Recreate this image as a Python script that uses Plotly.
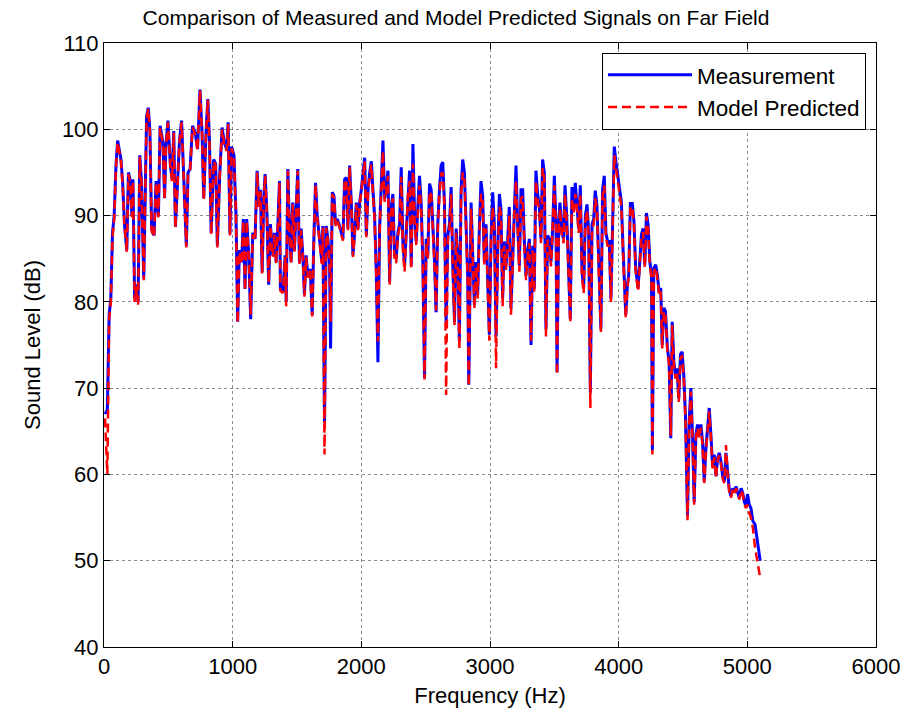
import plotly.graph_objects as go

freq = [8, 18, 26, 40, 53, 66, 79, 93, 106, 132, 145, 159, 177, 190, 204, 217, 225, 238, 251, 265,
        278, 291, 309, 331, 344, 357, 370, 389, 405, 423, 436, 458, 471, 481, 497, 516, 529, 542, 555, 574,
        587, 603, 622, 640, 653, 669, 688, 709, 727, 746, 762, 775, 794, 807, 820, 833, 852, 868, 881, 899,
        918, 934, 952, 965, 979, 992, 1010, 1026, 1039, 1052, 1070, 1083, 1096, 1109, 1125, 1140, 1156, 1174, 1190, 1203,
        1216, 1229, 1242, 1252, 1265, 1280, 1293, 1312, 1325, 1338, 1351, 1364, 1371, 1390, 1408, 1416, 1429, 1442, 1454, 1467,
        1480, 1493, 1506, 1519, 1532, 1545, 1558, 1571, 1584, 1603, 1618, 1631, 1644, 1657, 1675, 1693, 1701, 1714, 1727, 1740,
        1753, 1761, 1774, 1787, 1800, 1813, 1831, 1844, 1857, 1870, 1883, 1896, 1909, 1922, 1935, 1948, 1961, 1974, 1987, 2000,
        2013, 2026, 2039, 2052, 2065, 2078, 2090, 2103, 2116, 2129, 2142, 2155, 2168, 2181, 2194, 2207, 2220, 2233, 2245, 2258,
        2271, 2284, 2297, 2310, 2323, 2336, 2349, 2362, 2375, 2388, 2401, 2414, 2426, 2439, 2452, 2465, 2478, 2491, 2504, 2517,
        2530, 2543, 2556, 2569, 2581, 2594, 2607, 2620, 2633, 2646, 2659, 2672, 2685, 2698, 2711, 2724, 2737, 2749, 2762, 2775,
        2788, 2801, 2814, 2827, 2835, 2853, 2866, 2879, 2892, 2904, 2917, 2930, 2943, 2956, 2969, 2982, 2995, 3008, 3021, 3034,
        3047, 3060, 3073, 3085, 3098, 3111, 3124, 3137, 3150, 3163, 3176, 3189, 3202, 3215, 3228, 3241, 3254, 3267, 3280, 3293,
        3306, 3319, 3332, 3344, 3357, 3370, 3383, 3396, 3409, 3422, 3435, 3448, 3461, 3474, 3487, 3500, 3513, 3521, 3534, 3544,
        3559, 3572, 3583, 3596, 3611, 3624, 3637, 3650, 3663, 3676, 3689, 3702, 3715, 3728, 3741, 3754, 3767, 3780, 3793, 3806,
        3818, 3831, 3844, 3862, 3875, 3888, 3901, 3914, 3927, 3940, 3953, 3966, 3979, 3992, 4005, 4021, 4034, 4047, 4055, 4068,
        4078, 4091, 4106, 4119, 4132, 4151, 4164, 4177, 4190, 4203, 4216, 4229, 4242, 4255, 4262, 4273, 4288, 4301, 4314, 4327,
        4338, 4351, 4364, 4379, 4392, 4405, 4416, 4429, 4441, 4454, 4467, 4480, 4493, 4506, 4519, 4535, 4548, 4561, 4574, 4587,
        4600, 4613, 4626, 4639, 4652, 4665, 4678, 4691, 4704, 4717, 4730, 4743, 4756, 4769, 4782, 4795, 4808, 4821, 4834, 4847,
        4860, 4873, 4886, 4899, 4912, 4925, 4938, 4951, 4964, 4977, 4989, 5002, 5015, 5028, 5043, 5060, 5100]

measured = [67.0, 67.3, 67.5, 78.5, 80.4, 88.0, 90.0, 95.8, 98.7, 96.5, 93.8, 89.0, 86.0, 95.0, 94.0, 90.0, 94.2, 80.4, 82.0, 80.0,
            97.0, 94.0, 82.7, 101.5, 102.5, 99.8, 88.5, 87.7, 94.0, 90.0, 100.4, 98.5, 92.0, 98.0, 101.0, 95.8, 94.2, 99.8, 88.7, 94.6,
            98.8, 101.0, 94.0, 86.5, 95.0, 95.4, 100.4, 99.6, 97.7, 104.6, 99.6, 92.0, 100.0, 103.5, 98.5, 88.0, 96.5, 96.0, 86.5, 94.6,
            100.2, 98.5, 97.7, 100.8, 87.9, 98.0, 97.0, 90.0, 77.7, 86.0, 84.6, 89.6, 81.5, 89.6, 85.4, 78.0, 88.0, 87.3, 95.2, 91.2,
            93.0, 83.5, 92.0, 94.8, 90.8, 82.0, 89.0, 85.4, 88.0, 84.6, 88.8, 94.0, 81.5, 81.2, 85.4, 80.0, 95.4, 88.0, 84.6, 91.5,
            86.0, 91.0, 95.4, 84.6, 88.5, 85.4, 80.8, 85.4, 83.0, 83.8, 78.5, 87.3, 93.8, 90.0, 87.3, 84.6, 88.8, 66.0, 88.8, 87.3,
            84.6, 74.6, 92.7, 92.3, 89.0, 89.6, 88.8, 88.0, 87.3, 94.2, 94.4, 88.5, 95.8, 91.5, 85.4, 88.0, 91.5, 88.5, 91.5, 93.0,
            95.0, 96.7, 87.7, 93.0, 95.0, 96.3, 93.0, 90.0, 83.5, 73.0, 88.5, 93.0, 98.7, 92.0, 93.0, 95.2, 82.3, 91.0, 92.5, 85.4,
            85.0, 88.0, 89.0, 95.6, 87.0, 84.2, 88.0, 93.0, 95.2, 84.2, 98.3, 90.0, 87.0, 91.0, 94.6, 91.5, 84.6, 71.2, 87.3, 85.4,
            93.7, 93.0, 89.0, 84.6, 78.8, 89.0, 93.0, 95.8, 96.2, 91.5, 77.7, 87.7, 89.0, 93.3, 84.2, 77.7, 88.5, 85.4, 75.4, 93.0,
            96.5, 95.0, 89.0, 82.7, 70.4, 91.5, 85.4, 79.6, 84.6, 80.8, 88.5, 94.0, 92.3, 84.6, 89.0, 80.8, 76.2, 87.3, 92.7, 89.0,
            76.0, 86.0, 92.5, 90.8, 80.4, 87.0, 84.2, 87.0, 91.0, 79.2, 85.4, 91.0, 95.8, 89.0, 84.2, 93.0, 93.0, 87.0, 83.0, 86.0,
            87.3, 75.0, 86.5, 81.5, 95.2, 92.5, 91.2, 87.3, 96.5, 95.0, 76.9, 87.7, 87.3, 84.6, 88.5, 94.6, 89.0, 71.9, 89.0, 91.5,
            88.0, 87.3, 93.5, 90.0, 83.5, 78.0, 93.3, 90.8, 93.8, 91.5, 88.5, 93.5, 83.5, 81.5, 90.0, 91.3, 88.0, 69.5, 89.0, 89.6,
            92.9, 91.2, 84.6, 76.9, 93.0, 94.6, 88.0, 87.0, 87.0, 80.4, 89.0, 98.0, 96.2, 94.6, 93.0, 91.6, 86.2, 80.4, 78.5, 82.0,
            83.1, 91.4, 91.4, 89.3, 83.9, 81.6, 84.3, 87.8, 88.5, 84.3, 90.3, 88.9, 84.7, 83.1, 62.8, 83.9, 84.3, 83.1, 81.2, 81.6,
            75.0, 79.3, 78.9, 74.6, 73.1, 64.2, 77.7, 73.1, 71.5, 72.3, 68.8, 73.9, 74.2, 71.5, 66.9, 55.2, 66.1, 70.0, 64.6, 56.8,
            64.6, 65.8, 64.6, 65.8, 63.8, 59.2, 63.0, 65.4, 67.7, 64.6, 60.9, 62.3, 59.8, 61.9, 62.5, 61.5, 59.8, 59.2, 62.5, 60.3,
            58.2, 57.5, 58.4, 57.9, 58.6, 57.9, 57.3, 58.4, 57.9, 56.8, 56.4, 57.7, 56.5, 56.1, 54.6, 54.2, 50.0]

predicted = [66.5, 62.0, 60.0, 78.0, 80.0, 87.5, 89.5, 95.5, 98.5, 96.3, 93.5, 88.8, 85.8, 94.8, 93.8, 89.8, 94.0, 80.0, 81.8, 79.6,
             96.8, 93.8, 82.5, 101.3, 102.4, 99.6, 88.2, 87.5, 93.8, 89.8, 100.2, 98.3, 91.8, 97.8, 100.8, 95.6, 94.0, 99.6, 88.5, 94.4,
             98.6, 100.8, 93.8, 86.3, 94.8, 95.2, 100.2, 99.4, 97.5, 104.5, 99.4, 91.8, 99.8, 103.4, 98.3, 87.8, 96.3, 95.8, 86.3, 94.4,
             100.0, 98.3, 97.5, 100.6, 87.7, 97.8, 96.8, 89.8, 77.5, 85.8, 84.4, 89.4, 81.3, 89.4, 85.2, 78.5, 87.8, 87.1, 95.0, 91.0,
             92.8, 83.3, 91.8, 94.6, 90.6, 82.2, 88.8, 85.2, 87.8, 84.4, 88.6, 93.8, 81.3, 81.0, 85.2, 79.5, 95.2, 87.8, 84.4, 91.3,
             85.8, 90.8, 95.2, 84.4, 88.3, 85.2, 80.6, 85.2, 82.8, 83.6, 78.3, 87.1, 93.6, 89.8, 87.1, 84.4, 88.6, 62.3, 88.6, 87.1,
             84.4, 77.7, 92.5, 92.1, 88.8, 89.4, 88.6, 87.8, 87.1, 94.0, 94.2, 88.3, 95.6, 91.3, 85.2, 87.8, 91.3, 88.3, 91.3, 92.8,
             94.6, 96.3, 87.5, 92.6, 94.6, 95.9, 92.6, 89.6, 83.3, 75.4, 88.2, 92.6, 97.5, 91.6, 92.6, 94.6, 82.0, 90.6, 92.0, 84.5,
             84.6, 87.6, 88.6, 94.5, 86.0, 83.5, 87.6, 92.4, 94.0, 83.8, 96.0, 89.5, 86.6, 90.5, 93.5, 91.0, 84.2, 71.0, 86.8, 85.0,
             92.8, 92.4, 88.5, 84.2, 79.0, 88.5, 92.4, 94.8, 95.0, 91.0, 69.2, 87.2, 88.5, 92.5, 83.8, 77.3, 88.0, 85.0, 74.5, 92.4,
             95.0, 94.2, 88.5, 82.3, 70.2, 90.8, 85.0, 79.2, 84.2, 80.4, 88.0, 92.5, 91.6, 84.2, 88.5, 80.4, 75.5, 86.8, 91.0, 88.5,
             72.3, 85.5, 91.0, 90.2, 79.5, 86.5, 83.7, 86.5, 90.0, 78.5, 84.9, 90.3, 94.0, 88.5, 83.5, 92.0, 92.2, 86.5, 82.5, 85.5,
             86.8, 75.5, 86.0, 81.0, 94.0, 91.8, 90.6, 86.8, 95.5, 94.2, 76.0, 87.2, 86.8, 84.1, 88.0, 93.5, 88.5, 71.5, 88.5, 90.8,
             87.5, 86.8, 92.5, 89.4, 83.0, 77.6, 92.0, 90.2, 92.5, 90.8, 88.0, 92.5, 83.0, 81.0, 89.4, 90.6, 87.5, 67.7, 88.5, 89.0,
             92.0, 90.6, 84.1, 76.5, 92.2, 93.5, 87.5, 86.5, 86.5, 80.0, 88.5, 97.0, 95.5, 94.0, 92.5, 91.0, 85.8, 80.0, 78.1, 81.6,
             82.8, 91.0, 91.0, 88.9, 83.5, 81.2, 84.0, 87.4, 88.1, 84.0, 89.9, 88.5, 84.3, 82.7, 62.3, 83.5, 84.0, 82.7, 80.8, 81.2,
             74.6, 78.9, 78.5, 74.2, 72.7, 64.5, 77.3, 72.7, 71.1, 71.9, 68.4, 73.5, 73.8, 71.1, 66.5, 54.7, 65.7, 69.6, 64.2, 56.5,
             64.2, 65.4, 64.2, 65.4, 63.4, 59.0, 62.6, 65.0, 67.3, 64.2, 60.7, 62.0, 59.6, 61.6, 62.2, 61.2, 59.6, 59.0, 63.4, 60.0,
             57.9, 57.3, 58.2, 57.7, 58.4, 57.7, 57.1, 58.2, 57.7, 56.5, 56.1, 56.5, 55.5, 55.0, 53.8, 51.5, 48.0]

x_ticks = [0, 1000, 2000, 3000, 4000, 5000, 6000]
y_ticks = [40, 50, 60, 70, 80, 90, 100, 110]

FONT = "Liberation Sans, Arial, sans-serif"

fig = go.Figure()
fig.add_trace(go.Scatter(x=freq, y=measured, mode="lines", name="Measurement",
                         line=dict(color="#0000ff", width=3)))
fig.add_trace(go.Scatter(x=freq, y=predicted, mode="lines", name="Model Predicted",
                         line=dict(color="#ff0000", width=2.5, dash="9px,5px")))

axis_common = dict(
    showgrid=True, gridcolor="rgba(0,0,0,0.45)", gridwidth=1, griddash="dot",
    showline=True, linecolor="black", linewidth=1, mirror="ticks",
    ticks="inside", ticklen=6, tickcolor="black", tickwidth=1,
    zeroline=False, tickfont=dict(family=FONT, size=22, color="black"),
)

fig.update_layout(
    width=912, height=715, autosize=False,
    paper_bgcolor="white", plot_bgcolor="white",
    margin=dict(l=104, r=36, t=43, b=68, pad=0),
    font=dict(family=FONT, color="black"),
    title=dict(text="Comparison of Measured and Model Predicted Signals on Far Field",
               x=0.5, xref="container", y=1 - 18 / 715, yref="container",
               xanchor="center", yanchor="middle",
               font=dict(family=FONT, size=21, color="black")),
    xaxis=dict(range=[0, 6000], tickvals=x_ticks,
               title=dict(text="Frequency (Hz)", font=dict(family=FONT, size=22), standoff=9),
               **axis_common),
    yaxis=dict(range=[40, 110], tickvals=y_ticks,
               title=dict(text="Sound Level (dB)", font=dict(family=FONT, size=22), standoff=15),
               **axis_common),
    legend=dict(x=0.987, y=0.984, xanchor="right", yanchor="top",
                bgcolor="white", bordercolor="black", borderwidth=1,
                font=dict(family=FONT, size=22.5, color="black"),
                tracegroupgap=0, itemwidth=84),
    showlegend=True,
)

fig.write_html("out.html", config={"displayModeBar": False},
               post_script="document.body.style.margin='0';")
